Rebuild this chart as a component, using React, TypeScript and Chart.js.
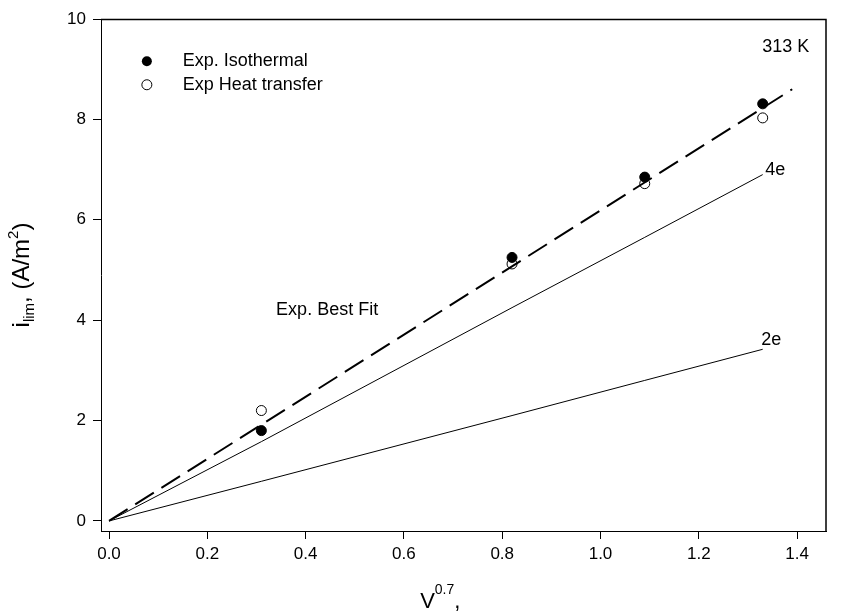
import React, { useEffect, useRef } from "react";
import { Chart, registerables } from "chart.js";

Chart.register(...registerables);

const xTicks = [0, 0.2, 0.4, 0.6, 0.8, 1.0, 1.2, 1.4];
const yTicks = [0, 2, 4, 6, 8, 10];

const expX = [0.31, 0.82, 1.09, 1.33];
const isothermalY = [1.8, 5.25, 6.85, 8.31];
const heatTransferY = [2.2, 5.12, 6.72, 8.03];

const bestFitX = [0, 1.39];
const bestFitY = [0, 8.6];

const theoryX = [0, 0.31, 0.82, 1.09, 1.33];
const fourEY = [0, 1.58, 4.25, 5.65, 6.9];
const twoEY = [0, 0.79, 2.1, 2.8, 3.42];

const legendLabels = ["Exp. Isothermal", "Exp Heat transfer"];

const FONT = "'Liberation Sans', Arial, sans-serif";

function pts(xs: number[], ys: number[]) {
  return xs.map((x, i) => ({ x, y: ys[i] }));
}

type Seg = { t: string; size: number; dy: number };

function drawRich(ctx: CanvasRenderingContext2D, segs: Seg[], x: number, y: number, center: boolean) {
  let total = 0;
  for (const s of segs) {
    ctx.font = `${s.size}px ${FONT}`;
    total += ctx.measureText(s.t).width;
  }
  let cx = center ? x - total / 2 : x;
  for (const s of segs) {
    ctx.font = `${s.size}px ${FONT}`;
    ctx.fillText(s.t, cx, y + s.dy);
    cx += ctx.measureText(s.t).width;
  }
}

const overlay = {
  id: "overlay",
  afterDraw(chart: any) {
    const { ctx, chartArea: a, scales } = chart;
    const xs = scales.x;
    const ys = scales.y;
    ctx.save();
    ctx.strokeStyle = "#000";
    ctx.lineWidth = 1.5;
    ctx.beginPath();
    ctx.moveTo(a.left, a.top + 0.5);
    ctx.lineTo(a.right, a.top + 0.5);
    ctx.lineTo(a.right, a.bottom);
    ctx.stroke();

    ctx.fillStyle = "#000";
    ctx.textBaseline = "middle";
    ctx.textAlign = "left";
    ctx.font = `18px ${FONT}`;
    ctx.fillText("313 K", xs.getPixelForValue(1.329), ys.getPixelForValue(9.44));
    ctx.fillText("Exp. Best Fit", xs.getPixelForValue(0.34), ys.getPixelForValue(4.2));
    ctx.fillText("4e", xs.getPixelForValue(1.335), ys.getPixelForValue(6.99));
    ctx.fillText("2e", xs.getPixelForValue(1.327), ys.getPixelForValue(3.6));

    // legend
    const lx = xs.getPixelForValue(0.077);
    const tx = xs.getPixelForValue(0.15);
    const rows = [9.16, 8.69];
    rows.forEach((ry, i) => {
      const py = ys.getPixelForValue(ry);
      ctx.beginPath();
      ctx.arc(lx, py, 5, 0, Math.PI * 2);
      if (i === 0) {
        ctx.fillStyle = "#000";
        ctx.fill();
      } else {
        ctx.fillStyle = "#fff";
        ctx.fill();
        ctx.lineWidth = 1;
        ctx.strokeStyle = "#000";
        ctx.stroke();
      }
      ctx.fillStyle = "#000";
      ctx.font = `18px ${FONT}`;
      ctx.fillText(legendLabels[i], tx, py);
    });

    // axis titles
    ctx.textBaseline = "alphabetic";
    drawRich(
      ctx,
      [
        { t: "V", size: 22, dy: 0 },
        { t: "0.7", size: 14, dy: -14 },
        { t: ",", size: 22, dy: 0 },
      ],
      xs.getPixelForValue(0.633),
      608,
      false
    );

    ctx.save();
    ctx.translate(29, (a.top + a.bottom) / 2);
    ctx.rotate(-Math.PI / 2);
    drawRich(
      ctx,
      [
        { t: "i", size: 24, dy: 0 },
        { t: "lim", size: 15, dy: 5 },
        { t: ", (A/m", size: 24, dy: 0 },
        { t: "2", size: 15, dy: -11 },
        { t: ")", size: 24, dy: 0 },
      ],
      0,
      0,
      true
    );
    ctx.restore();
    ctx.restore();
  },
};

export default function App() {
  const ref = useRef<HTMLCanvasElement | null>(null);
  useEffect(() => {
    document.body.style.margin = "0";
    const chart = new Chart(ref.current as HTMLCanvasElement, {
      type: "scatter",
      data: {
        datasets: [
          {
            type: "line",
            label: "Exp. Best Fit",
            data: pts(bestFitX, bestFitY),
            borderColor: "#000",
            borderWidth: 2,
            borderDash: [22, 9],
            pointRadius: 0,
            fill: false,
          },
          {
            type: "line",
            label: "4e",
            data: pts(theoryX, fourEY),
            borderColor: "#000",
            borderWidth: 1,
            pointRadius: 0,
            fill: false,
          },
          {
            type: "line",
            label: "2e",
            data: pts(theoryX, twoEY),
            borderColor: "#000",
            borderWidth: 1,
            pointRadius: 0,
            fill: false,
          },
          {
            label: legendLabels[0],
            data: pts(expX, isothermalY),
            pointRadius: 5,
            backgroundColor: "#000",
            borderColor: "#000",
            borderWidth: 1,
          },
          {
            label: legendLabels[1],
            data: pts(expX, heatTransferY),
            pointRadius: 5,
            backgroundColor: "#fff",
            borderColor: "#000",
            borderWidth: 1,
          },
        ],
      },
      options: {
        animation: false,
        responsive: true,
        maintainAspectRatio: false,
        layout: { padding: { left: 41, right: 20, top: 19, bottom: 43 } },
        plugins: { legend: { display: false }, tooltip: { enabled: false } },
        scales: {
          x: {
            type: "linear",
            min: -0.0163,
            max: 1.4588,
            afterFit: (s: any) => {
              s.height = 40;
            },
            afterBuildTicks: (s: any) => {
              s.ticks = xTicks.map((v) => ({ value: v }));
            },
            grid: { drawOnChartArea: false, drawTicks: true, tickLength: 8, tickColor: "#000", tickWidth: 1 },
            border: { display: true, color: "#000", width: 1 },
            ticks: {
              color: "#000",
              padding: 5,
              maxRotation: 0,
              font: { family: FONT, size: 17 },
              callback: (v: any) => Number(v).toFixed(1),
            },
          },
          y: {
            type: "linear",
            min: -0.2,
            max: 10,
            afterFit: (s: any) => {
              s.width = 60;
            },
            afterBuildTicks: (s: any) => {
              s.ticks = yTicks.map((v) => ({ value: v }));
            },
            grid: { drawOnChartArea: false, drawTicks: true, tickLength: 8, tickColor: "#000", tickWidth: 1 },
            border: { display: true, color: "#000", width: 1 },
            ticks: {
              color: "#000",
              padding: 7,
              font: { family: FONT, size: 17 },
              callback: (v: any) => String(v),
            },
          },
        },
      },
      plugins: [overlay],
    } as any);
    return () => chart.destroy();
  }, []);
  return (
    <div style={{ position: "fixed", left: 0, top: 0, width: 846, height: 614, background: "#fff" }}>
      <canvas ref={ref} />
    </div>
  );
}
